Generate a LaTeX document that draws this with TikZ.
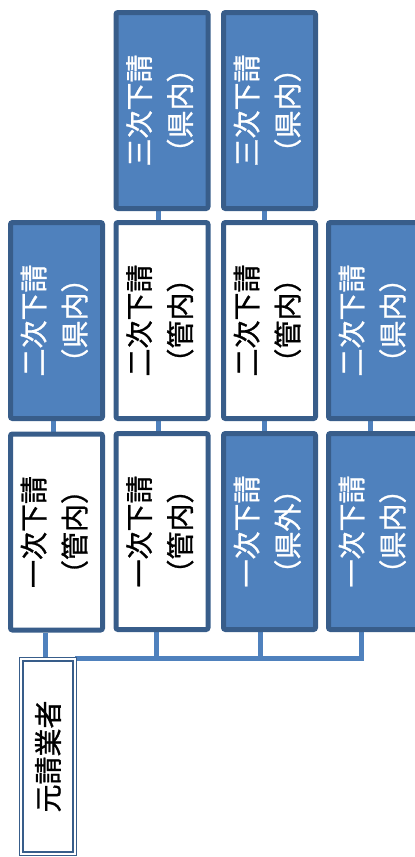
\documentclass[tikz,border=0pt]{standalone}
\usepackage{fontspec}
\setmainfont{Noto Sans CJK JP}[FakeBold=1]
\usepackage{graphicx}
\usepackage{tikz}
\usetikzlibrary{backgrounds}

\definecolor{boxfill}{HTML}{4F81BD}
\definecolor{boxline}{HTML}{385D8A}
\newcommand{\vlabel}[2]{\rotatebox{90}{\fontsize{28}{41}\selectfont\begin{tabular}{@{}c@{}}#1\\#2\end{tabular}}}

\begin{document}
\begin{tikzpicture}[x=1pt,y=-1pt,
  bluebox/.style={draw=boxline,fill=boxfill,text=white,line width=5pt,rounded corners=2pt,
    inner sep=0pt,minimum width=92pt,minimum height=196pt},
  whitebox/.style={bluebox,fill=white,text=black},
  link/.style={draw=boxfill,line width=5pt},
  prime/.style={draw=boxline,line width=1.2pt,double=white,double distance=2.2pt,fill=white,
    inner sep=0pt,minimum width=53.4pt,minimum height=194.4pt}]
  \useasboundingbox (0,0) rectangle (415,857);
  \clip (0,0) rectangle (415,857);

  % first tier
  \node(i1)[whitebox] at (56.5,532) {\vlabel{一次下請}{（管内）}};
  \node(i2)[whitebox] at (162,531.5) {\vlabel{一次下請}{（管内）}};
  \node(i3)[bluebox] at (269.5,531.5) {\vlabel{一次下請}{（県外）}};
  \node(i4)[bluebox] at (374.5,531.5) {\vlabel{一次下請}{（県内）}};
  % second tier
  \node(n1)[bluebox] at (56.5,320.5) {\vlabel{二次下請}{（県内）}};
  \node(n2)[whitebox] at (162,320.5) {\vlabel{二次下請}{（管内）}};
  \node(n3)[whitebox] at (269.5,320.5) {\vlabel{二次下請}{（管内）}};
  \node(n4)[bluebox] at (374.5,320.5) {\vlabel{二次下請}{（県内）}};
  % third tier
  \node(s2)[bluebox] at (162,110.5) {\vlabel{三次下請}{（県内）}};
  \node(s3)[bluebox] at (269.5,110.5) {\vlabel{三次下請}{（県内）}};

  \node(m)[prime] at (48,756.5) {\rotatebox{90}{\fontsize{28}{40}\selectfont 元請業者}};

  \begin{scope}[on background layer]
    \coordinate (d1) at ([xshift=-3pt]m.north);
    \draw[link] (d1) -- (d1 |- i1.south);
    \draw[link] (m.north east) -| ([xshift=-6pt]i2.south);
    \draw[link] (m.north east) -| ([xshift=-9.5pt]i3.south);
    \draw[link] (m.north east) -| ([xshift=-13.5pt]i4.south);

    \draw[link] ([xshift=-3pt]n1.south) -- ([xshift=-3pt]i1.north);
    \draw[link] ([xshift=-4pt]n2.south) -- ([xshift=-4pt]i2.north);
    \draw[link] ([xshift=-5pt]n3.south) -- ([xshift=-5pt]i3.north);
    \draw[link] ([xshift=-4.5pt]n4.south) -- ([xshift=-4.5pt]i4.north);
    \draw[link] ([xshift=-4pt]s2.south) -- ([xshift=-4pt]n2.north);
    \draw[link] ([xshift=-5pt]s3.south) -- ([xshift=-5pt]n3.north);
  \end{scope}
\end{tikzpicture}
\end{document}
